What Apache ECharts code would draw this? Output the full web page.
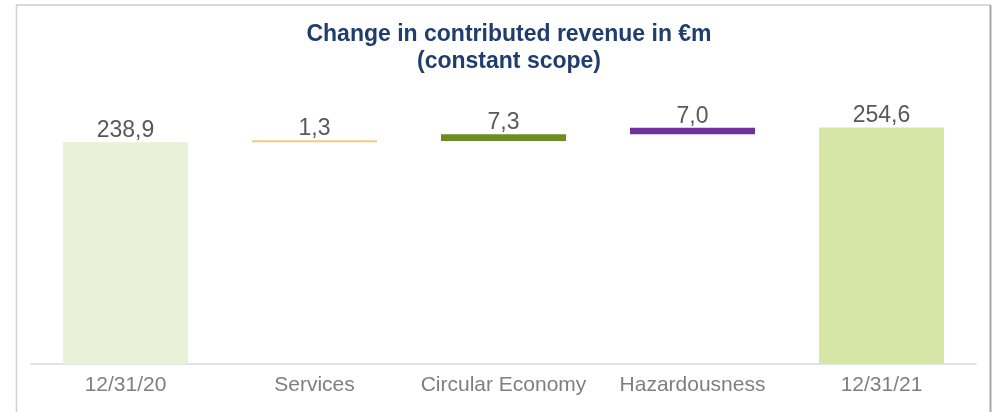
<!DOCTYPE html>
<html>
<head>
<meta charset="utf-8">
<script src="https://cdn.jsdelivr.net/npm/echarts@6/dist/echarts.min.js"></script>
<style>
  html, body { margin: 0; padding: 0; background: #ffffff; }
  #chart { width: 998px; height: 412px; }
</style>
</head>
<body>
<div id="chart"></div>
<script>
// Revenue bridge, €m
const categories = ['12/31/20', 'Services', 'Circular Economy', 'Hazardousness', '12/31/21'];
const values = [238.9, 1.3, 7.3, 7.0, 254.6];
const valueLabels = ['238,9', '1,3', '7,3', '7,0', '254,6'];
const isTotal = [true, false, false, false, true];
const barColors = ['#e9f1d8', '#eecb84', '#6b8e23', '#7030a0', '#d5e6a6'];

// invisible offsets that lift each change bar onto the running total
const offsets = [];
let running = 0;
values.forEach((v, i) => {
  if (isTotal[i]) { offsets.push(0); running = v; }
  else { offsets.push(running); running += v; }
});

const FONT = '"Liberation Sans", Arial, sans-serif';

const chart = echarts.init(document.getElementById('chart'), null, { renderer: 'canvas' });
chart.setOption({
  animation: false,
  backgroundColor: '#ffffff',
  grid: { left: 31, right: 22, top: 104, bottom: 48, containLabel: false },
  xAxis: {
    type: 'category',
    data: categories,
    axisLine: { lineStyle: { color: '#d9d9d9', width: 1.5 } },
    axisTick: { show: false },
    axisLabel: { color: '#7f7f7f', fontSize: 21, fontFamily: FONT, margin: 11, interval: 0 }
  },
  yAxis: {
    type: 'value',
    min: 0,
    max: 280,
    show: false,
    splitLine: { show: false }
  },
  series: [
    {
      type: 'bar',
      stack: 'bridge',
      silent: true,
      itemStyle: { color: 'transparent' },
      data: offsets,
      barWidth: 125
    },
    {
      type: 'bar',
      stack: 'bridge',
      barWidth: 125,
      barMinHeight: 2,
      data: values.map((v, i) => ({
        value: v,
        itemStyle: { color: barColors[i] }
      })),
      label: {
        show: true,
        position: 'top',
        distance: 0,
        color: '#595959',
        fontSize: 23,
        fontFamily: FONT,
        formatter: p => valueLabels[p.dataIndex]
      }
    }
  ],
  graphic: [
    { type: 'line', shape: { x1: 16, y1: 5, x2: 990, y2: 5 }, style: { stroke: '#cccccc', lineWidth: 1.5 } },
    { type: 'line', shape: { x1: 16.5, y1: 5, x2: 16.5, y2: 412 }, style: { stroke: '#d3d3d3', lineWidth: 1.5 } },
    { type: 'line', shape: { x1: 990.5, y1: 5, x2: 990.5, y2: 412 }, style: { stroke: '#a8a8a8', lineWidth: 2 } },
    {
      type: 'text',
      x: 509,
      y: 21,
      style: {
        text: 'Change in contributed revenue in €m\n(constant scope)',
        textAlign: 'center',
        textVerticalAlign: 'top',
        font: 'bold 23px ' + FONT,
        lineHeight: 27,
        fill: '#1f3d6d'
      }
    }
  ]
});
</script>
</body>
</html>
